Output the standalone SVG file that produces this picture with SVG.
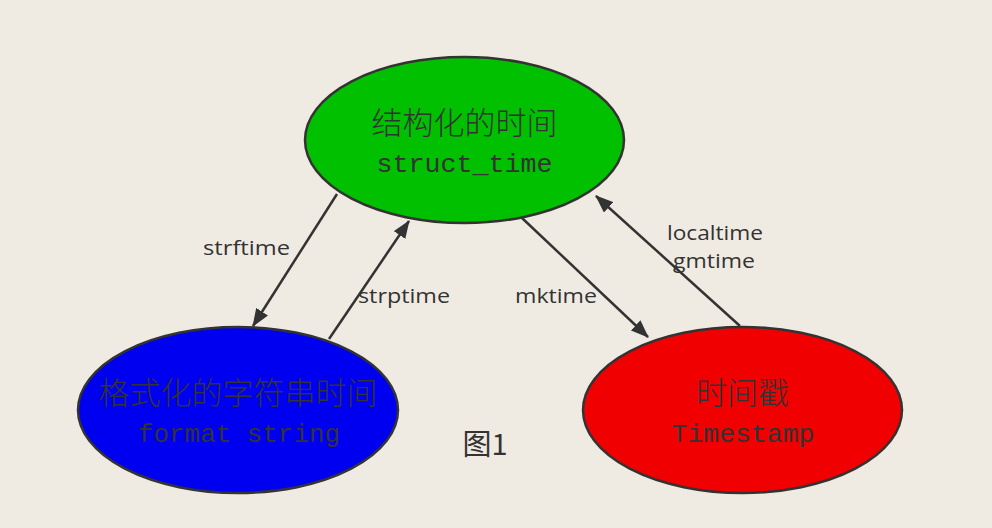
<svg xmlns="http://www.w3.org/2000/svg" width="992" height="528" viewBox="0 0 992 528">
<style>
.node ellipse{stroke:#333;stroke-width:2.5}
.nt{font-family:"Noto Sans CJK SC","Liberation Serif",serif;font-size:31px;font-weight:300;fill:#333;text-anchor:middle}
.nl{font-family:"Liberation Mono",monospace;font-size:26px;fill:#333;text-anchor:middle}
.edge line{stroke:#333;stroke-width:2.5;marker-end:url(#ah)}
.lbl{font-family:"Open Sans","Noto Sans",sans-serif;font-size:20px;fill:#333}
</style>
<defs>
<marker id="ah" viewBox="0 0 18 14" refX="17" refY="7" markerWidth="18" markerHeight="14" markerUnits="userSpaceOnUse" orient="auto">
<path d="M0,0 L18,7 L0,14 z" fill="#333"/>
</marker>
</defs>
<rect width="992" height="528" fill="#f0ebe2"/>
<g id="connectors" class="edge">
<line x1="337" y1="194" x2="253" y2="326"/>
<line x1="329" y1="339" x2="409" y2="221"/>
<line x1="522" y1="218" x2="648" y2="337"/>
<line x1="740" y1="326" x2="596" y2="196"/>
</g>
<g id="labels">
<text class="lbl" x="203" y="255" textLength="87" lengthAdjust="spacingAndGlyphs">strftime</text>
<text class="lbl" x="358" y="303" textLength="92" lengthAdjust="spacingAndGlyphs">strptime</text>
<text class="lbl" x="515" y="303" textLength="82" lengthAdjust="spacingAndGlyphs">mktime</text>
<text class="lbl" x="667" y="240" textLength="96" lengthAdjust="spacingAndGlyphs">localtime</text>
<text class="lbl" x="673" y="268" textLength="82" lengthAdjust="spacingAndGlyphs">gmtime</text>
</g>
<g id="struct_time" class="node">
<ellipse cx="464.5" cy="140" rx="159.5" ry="83" fill="#00c000"/>
<text class="nt" x="464.5" y="134">结构化的时间</text>
<text class="nl" x="464.5" y="172" textLength="176" lengthAdjust="spacingAndGlyphs">struct_time</text>
</g>
<g id="format_string" class="node">
<ellipse cx="238" cy="410" rx="160" ry="83" fill="#0000f0"/>
<text class="nt" x="238" y="404">格式化的字符串时间</text>
<text class="nl" x="239" y="442" textLength="202" lengthAdjust="spacingAndGlyphs">format string</text>
</g>
<g id="timestamp" class="node">
<ellipse cx="742.5" cy="410" rx="159.5" ry="83" fill="#f00000"/>
<text class="nt" x="742.5" y="404">时间戳</text>
<text class="nl" x="743" y="442" textLength="143" lengthAdjust="spacingAndGlyphs">Timestamp</text>
</g>
<text id="caption" x="485" y="455" font-family="Noto Sans CJK SC, sans-serif" font-size="29" fill="#333" text-anchor="middle">图1</text>
</svg>
